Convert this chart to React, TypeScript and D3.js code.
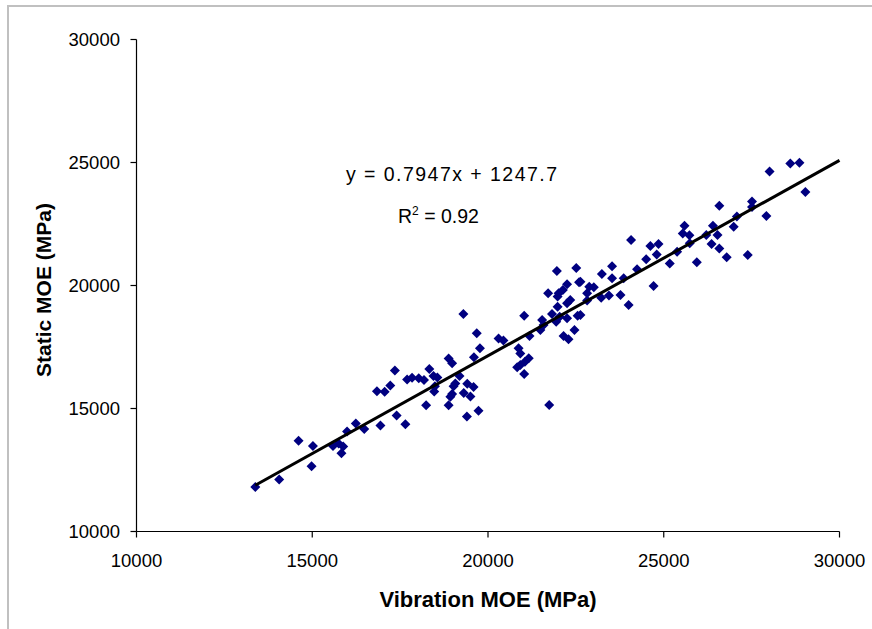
import React from "react";
import * as d3 from "d3";

const vibrationMOE = [
  13380, 14060, 14610, 15020, 14980, 15590, 15750, 15880, 15830, 15990,
  16240, 16480, 16940, 17400, 17650, 16840, 17060, 17220, 17350, 17700,
  17840, 18030, 18180, 18330, 18450, 18560, 18240, 18470, 18490, 18880,
  18980, 19190, 19070, 19020, 19410, 19590, 18930, 18980, 19310, 19500,
  18880, 19730, 19400, 19300, 19680, 19770, 19600, 20300, 20440, 20870,
  20920, 21160, 21050, 20830, 20920, 21030, 21030, 21180, 21740, 21490,
  21540, 21580, 21820, 21940, 22040, 22250, 22150, 22290, 22460, 22550,
  21980, 22340, 22250, 21980, 21710, 22010, 22130, 22250, 22590, 21960,
  22510, 22820, 22820, 22880, 23010, 22630, 22630, 23220, 23440, 23770,
  24000, 23240, 23530, 23530, 23860, 24240, 24070, 24620, 24850, 24800,
  24500, 24710, 25170, 25380, 25590, 25540, 25730, 25740, 25940, 26210,
  26400, 26530, 26360, 26580, 26790, 27390, 26580, 26990, 27080, 27510,
  27510, 27920, 28010, 28600, 28860, 29030,
];

const staticMOE = [
  11810, 12110, 13690, 13480, 12650, 13480, 13580, 13460, 13180, 14060,
  14390, 14170, 14310, 14720, 14360, 15700, 15680, 15930, 16540, 16180,
  16250, 16230, 16160, 16610, 16320, 16260, 15130, 15690, 15900, 17030,
  16840, 16320, 16020, 15900, 16010, 15870, 15480, 15590, 15630, 15490,
  15130, 14910, 14670, 18840, 18060, 17450, 17080, 17850, 17760, 17450,
  17240, 17040, 16900, 16680, 16770, 16400, 18770, 17950, 15140, 18190,
  18600, 18390, 18840, 18530, 18730, 18670, 17950, 17810, 18190, 18770,
  19140, 19410, 19280, 19550, 19680, 19680, 19820, 20050, 20130, 20590,
  20710, 19390, 19680, 19950, 19930, 20150, 18800, 19500, 19590, 19610,
  19210, 20470, 20780, 20290, 20290, 20660, 21850, 21610, 21690, 21260,
  21070, 19980, 20890, 21370, 22430, 22110, 22040, 21720, 20950, 22050,
  22430, 22050, 21690, 21500, 21150, 21240, 23240, 22390, 22800, 23410,
  23190, 22830, 24630, 24960, 24990, 23800,
];

const xTicks = [10000, 15000, 20000, 25000, 30000];
const yTicks = [10000, 15000, 20000, 25000, 30000];
const trendSlope = 0.7947;
const trendIntercept = 1247.7;
const equationText = "y = 0.7947x + 1247.7";
const r2Value = "0.92";
const xTitle = "Vibration MOE (MPa)";
const yTitle = "Static MOE (MPa)";

const FONT = "'Liberation Sans', Arial, sans-serif";

export default function App() {
  const x = d3.scaleLinear().domain([10000, 30000]).range([136.5, 839.5]);
  const y = d3.scaleLinear().domain([10000, 30000]).range([531.5, 39.5]);

  const points = vibrationMOE.map((v, i) => ({ v, s: staticMOE[i] }));
  const xMin = d3.min(vibrationMOE) as number;
  const trend = d3
    .line<number>()
    .x((d) => x(d))
    .y((d) => y(trendSlope * d + trendIntercept));
  const diamond = "M0,-5L5,0L0,5L-5,0Z";

  return (
    <svg
      width={872}
      height={629}
      style={{ position: "absolute", left: 0, top: 0, background: "#fff" }}
      fontFamily={FONT}
    >
      <rect x={0} y={0} width={872} height={629} fill="#fff" />
      <rect x={8} y={6} width={880} height={640} fill="none" stroke="#c0c0c0" strokeWidth={2} />

      {/* axes */}
      <line x1={x(10000)} x2={x(30000)} y1={y(10000)} y2={y(10000)} stroke="#000" strokeWidth={1.2} />
      <line x1={x(10000)} x2={x(10000)} y1={y(10000)} y2={y(30000)} stroke="#000" strokeWidth={1.2} />
      {xTicks.map((t) => (
        <g key={"xt" + t}>
          <line x1={x(t)} x2={x(t)} y1={y(10000)} y2={y(10000) + 6} stroke="#000" strokeWidth={1.2} />
          <text x={x(t)} y={567} textAnchor="middle" fontSize={18.5} fill="#000">
            {t}
          </text>
        </g>
      ))}
      {yTicks.map((t) => (
        <g key={"yt" + t}>
          <line x1={x(10000) - 6} x2={x(10000)} y1={y(t)} y2={y(t)} stroke="#000" strokeWidth={1.2} />
          <text x={120} y={y(t) + 6.5} textAnchor="end" fontSize={18.5} fill="#000">
            {t}
          </text>
        </g>
      ))}

      {/* points */}
      {points.map((p, i) => (
        <path key={i} d={diamond} transform={`translate(${x(p.v)},${y(p.s)})`} fill="#000080" />
      ))}

      {/* trend line */}
      <path d={trend([xMin, 30000]) || ""} stroke="#000" strokeWidth={3} fill="none" />

      {/* labels */}
      <text x={346} y={181} fontSize={19.5} fill="#000" textLength={211} lengthAdjust="spacing">
        {equationText}
      </text>
      <text x={398} y={223} fontSize={19.5} fill="#000">
        R<tspan fontSize={12} dy={-8}>2</tspan>
        <tspan dy={8}>{" = " + r2Value}</tspan>
      </text>

      <text x={488} y={607} textAnchor="middle" fontSize={22} fontWeight="bold" fill="#000">
        {xTitle}
      </text>
      <text
        transform="translate(51,290) rotate(-90)"
        textAnchor="middle"
        fontSize={21}
        fontWeight="bold"
        fill="#000"
      >
        {yTitle}
      </text>
    </svg>
  );
}
